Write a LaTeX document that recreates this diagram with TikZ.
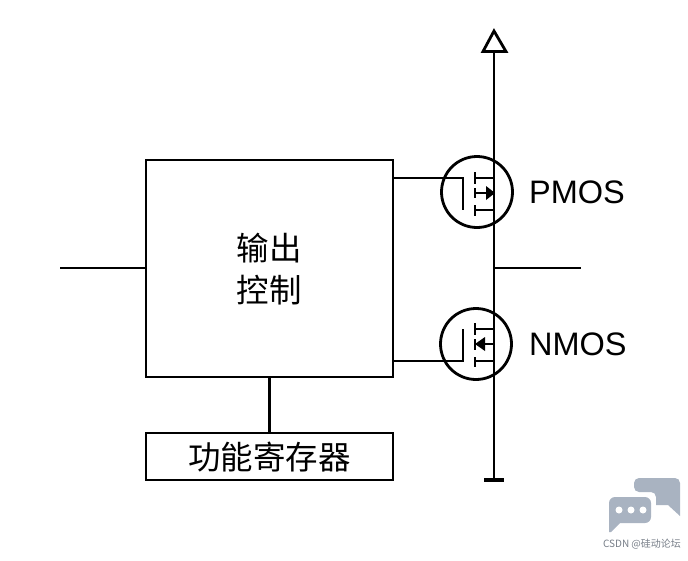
\documentclass[tikz,border=0pt]{standalone}
\usepackage{fontspec}
\setmainfont{Liberation Sans}
\newfontfamily\cjk{Noto Sans CJK SC}
\usetikzlibrary{
    arrows,
    calc,
    positioning
}
\definecolor{markgray}{HTML}{A9B3C1}
\tikzset{
    wire/.style={line width=2.8pt},
    mosring/.style={circle, draw, line width=2.8pt, minimum size=71pt, inner sep=0pt},
    blockbox/.style={draw, line width=2.8pt, inner sep=0pt},
    mostext/.style={font=\fontsize{32.5pt}{32.5pt}\selectfont, anchor=west, inner sep=0pt},
    cjktext/.style={font=\cjk\fontsize{32.5pt}{42pt}\selectfont, align=center, inner sep=0pt}
}
\begin{document}
\begin{tikzpicture}[x=1pt, y=-1pt]
    \useasboundingbox (0, 0) rectangle (688, 560);
    % output control and register
    \node[blockbox, minimum width=247pt, minimum height=217pt] (ctrl) at (269.5, 268.5) {};
    \node[cjktext] (ctrltext) at (269, 269) {输出\\控制};
    \node[blockbox, minimum width=247pt, minimum height=47pt] (reg) at (269.5, 456.5) {};
    \node[cjktext] (regtext) at (269.5, 457) {功能寄存器};
    \draw[wire] (ctrl.south) -- (reg.north);
    \coordinate (in) at (60, 268);
    \draw[wire] (in) -- (in -| ctrl.west);
    % supply rail
    \coordinate (top) at (494, 52);
    \coordinate (bottom) at (494, 480);
    \coordinate (out) at (581, 268);
    \draw[wire] (top) -- (bottom);
    \draw[wire] (out -| top) -- (out);
    \draw[wire, line join=miter] (483, 51.5) -- (494, 31) -- (506, 51.5) -- cycle;
    \draw[line width=4.5pt] ($(bottom)+(-10, 0)$) -- ($(bottom)+(10, 0)$);
    % PMOS
    \begin{scope}[shift={(477, 192)}]
        \node[mosring] (pring) at (0, 0) {};
        \coordinate (pgate) at (-14, -14);
        \draw[wire] (pgate -| ctrl.east) -- (pgate) -- (-14, 18);
        \draw[wire]
        (-2, -20) -- (-2, -8)
        (-2, -4) -- (-2, 6)
        (-2, 13) -- (-2, 24)
        (-2, -14) -- (17, -14)
        (-2, 18) -- (17, 18)
        (-2, 1) -- (10, 1);
        \fill (9, -6) -- (18, 1) -- (9, 8) -- cycle;
    \end{scope}
    % NMOS
    \begin{scope}[shift={(476, 344)}]
        \node[mosring] (nring) at (0, 0) {};
        \coordinate (ngate) at (-13, 17);
        \draw[wire] (ngate -| ctrl.east) -- (ngate) -- (-13, -15);
        \draw[wire]
        (-1, -21) -- (-1, -9)
        (-1, -5) -- (-1, 6)
        (-1, 13) -- (-1, 23)
        (-1, -15) -- (18, -15)
        (-1, 17) -- (18, 17)
        (18, 0) -- (8, 0);
        \fill (-1, 0) -- (9, -7) -- (9, 7) -- cycle;
    \end{scope}
    \node[mostext, right=15pt of pring] (pname) {PMOS};
    \node[mostext, right=16pt of nring] (nname) {NMOS};
    % watermark
    \fill[markgray, rounded corners=5pt]
    (656, 505) -- (656, 492) -- (634, 492) -- (634, 478) -- (680, 478) -- (680, 500)
    [sharp corners] -- (680, 516) -- (668, 505) -- cycle;
    \fill[markgray, rounded corners=6pt]
    (620, 523) -- (651, 523) -- (651, 497) -- (609, 497) -- (609, 515)
    [sharp corners] -- (609, 532) -- (611, 532) -- cycle;
    \foreach \px in {619, 631, 643} {
        \fill[white] (\px, 510) circle (3.5pt);
    }
    \node[font=\cjk\fontsize{10pt}{10pt}\selectfont, text=markgray!70!black, inner sep=0pt] (marktext) at (642, 544) {CSDN @硅动论坛};
\end{tikzpicture}
\end{document}
